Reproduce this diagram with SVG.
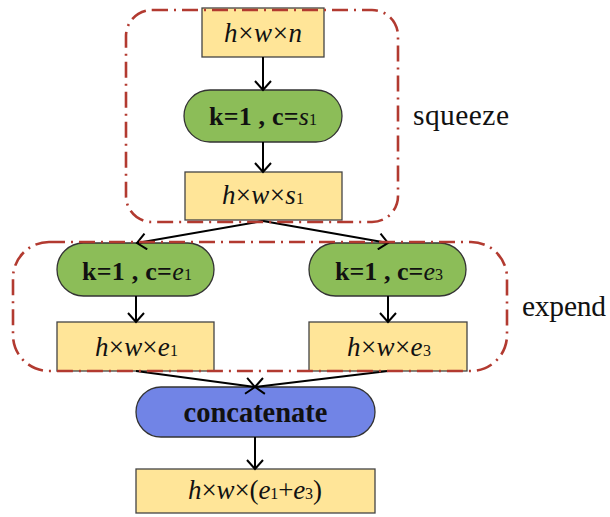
<svg xmlns="http://www.w3.org/2000/svg" width="610" height="517" viewBox="0 0 610 517">
<defs>
<style>
.box{fill:#FFE598;stroke:#444;stroke-width:1.3}
.green{fill:#8CBD58;stroke:#333;stroke-width:1.3}
.blue{fill:#7184E6;stroke:#333;stroke-width:1.3}
.t{font-family:"Liberation Serif",serif;font-size:27px;fill:#111;text-anchor:middle}
.b{font-weight:bold;font-size:26px}
.i{font-style:italic}
.sub{font-size:16px;font-style:normal}
.lbl{font-family:"Liberation Serif",serif;font-size:29.5px;fill:#111}
.con{stroke:#000;stroke-width:2;fill:none;marker-end:url(#arr)}
.frame{fill:none;stroke:#B23A30;stroke-width:2.6;stroke-dasharray:16 6 2 6}
</style>
<marker id="arr" markerUnits="userSpaceOnUse" markerWidth="16" markerHeight="18" refX="10" refY="9" orient="auto">
<path d="M1,1 L10,9 L1,17" fill="none" stroke="#000" stroke-width="2"/>
</marker>
</defs>
<rect width="610" height="517" fill="#fff"/>

<g id="n-input">
<rect class="box" x="202" y="8" width="122" height="49"/>
<text class="t" x="263" y="42" textLength="78"><tspan class="i">h</tspan>×<tspan class="i">w</tspan>×<tspan class="i">n</tspan></text>
</g>
<g id="n-squeeze-conv">
<rect class="green" x="184" y="90" width="158" height="52" rx="26"/>
<text class="t b" x="263" y="125" textLength="108">k=1 , c=<tspan class="i" font-weight="normal">s</tspan><tspan class="sub" font-weight="normal">1</tspan></text>
</g>
<g id="n-squeeze-out">
<rect class="box" x="185" y="172" width="157" height="48"/>
<text class="t" x="263" y="204" textLength="82"><tspan class="i">h</tspan>×<tspan class="i">w</tspan>×<tspan class="i">s</tspan><tspan class="sub">1</tspan></text>
</g>
<g id="n-conv-e1">
<rect class="green" x="57" y="243" width="157" height="53" rx="26.5"/>
<text class="t b" x="137" y="280" textLength="110">k=1 , c=<tspan class="i" font-weight="normal">e</tspan><tspan class="sub" font-weight="normal">1</tspan></text>
</g>
<g id="n-conv-e3">
<rect class="green" x="309" y="243" width="157" height="53" rx="26.5"/>
<text class="t b" x="389" y="280" textLength="108">k=1 , c=<tspan class="i" font-weight="normal">e</tspan><tspan class="sub" font-weight="normal">3</tspan></text>
</g>
<g id="n-out-e1">
<rect class="box" x="57" y="322" width="157" height="49"/>
<text class="t" x="136.5" y="356" textLength="83"><tspan class="i">h</tspan>×<tspan class="i">w</tspan>×<tspan class="i">e</tspan><tspan class="sub">1</tspan></text>
</g>
<g id="n-out-e3">
<rect class="box" x="309" y="322" width="158" height="49"/>
<text class="t" x="389" y="356" textLength="84"><tspan class="i">h</tspan>×<tspan class="i">w</tspan>×<tspan class="i">e</tspan><tspan class="sub">3</tspan></text>
</g>
<g id="n-concat">
<rect class="blue" x="136" y="387" width="239" height="50" rx="25"/>
<text class="t b" x="255.5" y="422" style="font-size:28.5px" textLength="144">concatenate</text>
</g>
<g id="n-output">
<rect class="box" x="136" y="469" width="239" height="44"/>
<text class="t" x="255" y="499" textLength="134"><tspan class="i">h</tspan>×<tspan class="i">w</tspan>×(<tspan class="i">e</tspan><tspan class="sub">1</tspan>+<tspan class="i">e</tspan><tspan class="sub">3</tspan>)</text>
</g>

<g id="connectors">
<line class="con" x1="263" y1="57" x2="263" y2="90"/>
<line class="con" x1="263" y1="142" x2="263" y2="172"/>
<line class="con" x1="263" y1="221" x2="137" y2="243"/>
<line class="con" x1="263" y1="221" x2="388" y2="243"/>
<line class="con" x1="136" y1="296" x2="136" y2="322"/>
<line class="con" x1="388" y1="296" x2="388" y2="322"/>
<line class="con" x1="136" y1="371" x2="255" y2="387"/>
<line class="con" x1="388" y1="371" x2="255" y2="387"/>
<line class="con" x1="255" y1="437" x2="255" y2="469"/>
</g>

<g id="squeeze-frame">
<rect class="frame" x="126" y="10" width="272" height="212" rx="26"/>
<text class="lbl" x="413" y="125" textLength="96">squeeze</text>
</g>
<g id="expend-frame">
<rect class="frame" x="13" y="242" width="494" height="129" rx="36"/>
<text class="lbl" x="522" y="316" textLength="84">expend</text>
</g>
</svg>
